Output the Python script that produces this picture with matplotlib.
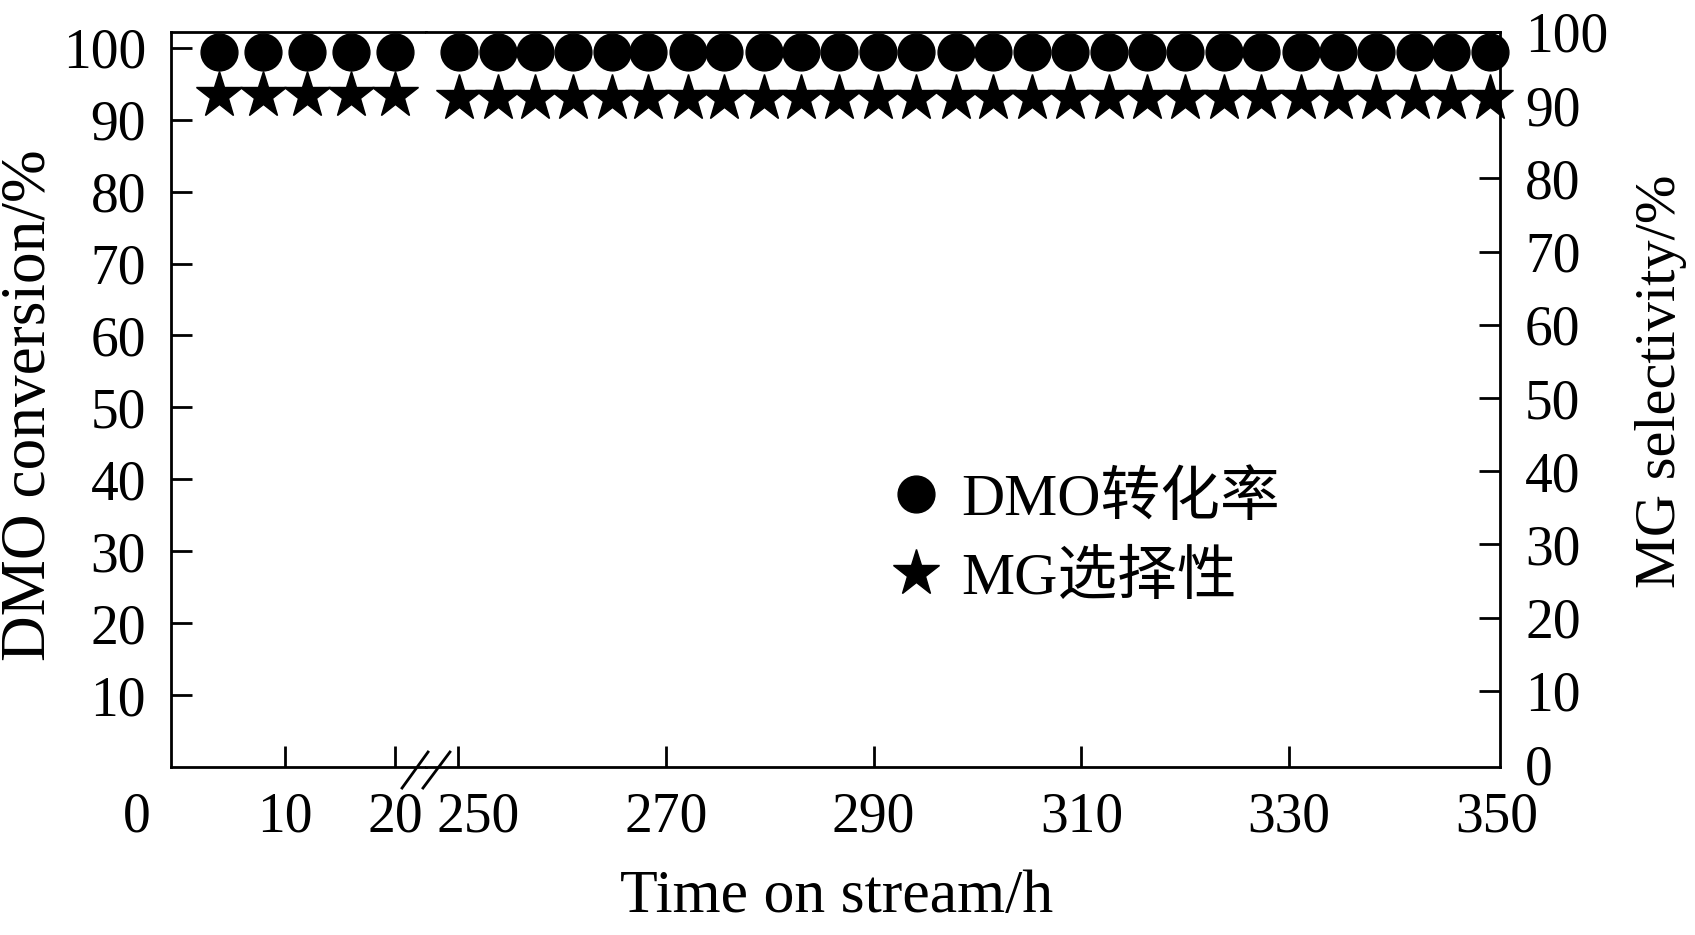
# DMO conversion / MG selectivity vs. time on stream (broken x axis)

import matplotlib
matplotlib.use("Agg")
import matplotlib.pyplot as plt
from matplotlib.transforms import ScaledTranslation

plt.rcParams["font.family"] = ["Liberation Serif", "Noto Sans CJK SC"]

# ============================
# Data
# ============================
t_early = [4, 8, 12, 16, 20]
conv_early = [99.4, 99.4, 99.4, 99.4, 99.4]
sel_early = [91.0, 91.0, 91.0, 91.0, 91.0]

t_late = [250.1, 253.8, 257.4, 261.1, 264.8, 268.3, 272.1, 275.6, 279.4,
          283.0, 286.7, 290.4, 294.1, 297.9, 301.5, 305.2, 308.9, 312.7,
          316.3, 320.0, 323.7, 327.3, 331.1, 334.7, 338.4, 342.1, 345.6,
          349.3]
conv_late = [99.4, 99.4, 99.4, 99.4, 99.4, 99.4, 99.4, 99.4, 99.4, 99.4,
             99.4, 99.4, 99.4, 99.4, 99.4, 99.4, 99.4, 99.4, 99.4, 99.4,
             99.4, 99.4, 99.4, 99.4, 99.4, 99.4, 99.4, 99.4]
sel_late = [91.0, 91.0, 91.0, 91.0, 91.0, 91.0, 91.0, 91.0, 91.0, 91.0,
            91.0, 91.0, 91.0, 91.0, 91.0, 91.0, 91.0, 91.0, 91.0, 91.0,
            91.0, 91.0, 91.0, 91.0, 91.0, 91.0, 91.0, 91.0]

xticks_early = [0, 10, 20]
xticks_late = [250, 270, 290, 310, 330, 350]
yticks_left = [10, 20, 30, 40, 50, 60, 70, 80, 90, 100]
yticks_right = [0, 10, 20, 30, 40, 50, 60, 70, 80, 90, 100]

label_conv = "DMO转化率"
label_sel = "MG选择性"

# ============================
# Layout
# ============================
W, H = 1695, 935
fig = plt.figure(figsize=(W / 100, H / 100), dpi=100)

L, R = 171 / W, 1500 / W
B, T = 1 - 767 / H, 1 - 32 / H
XB = 426 / W

axl = fig.add_axes([L, B, XB - L, T - B])
axr = fig.add_axes([XB, B, R - XB, T - B])
axl2 = axl.twinx()
axr2 = axr.twinx()

axl.set_xlim(-0.36, 22.8)
axr.set_xlim(246.9, 350.3)
for a in (axl, axr):
    a.set_ylim(0, 102.2)
for a in (axl2, axr2):
    a.set_ylim(-0.4, 99.5)

lw = 2.0
tick_fs = 40

# spines
for a in (axl, axr, axl2, axr2):
    for s in a.spines.values():
        s.set_linewidth(lw)
axl.spines["right"].set_visible(False)
axr.spines["left"].set_visible(False)
axr.spines["right"].set_visible(False)
for s in axl2.spines.values():
    s.set_visible(False)
axr2.spines["left"].set_visible(False)
axr2.spines["top"].set_visible(False)
axr2.spines["bottom"].set_visible(False)

# ============================
# Points
# ============================
circ_kw = dict(linestyle="none", marker="o", markersize=26.5, color="black",
               clip_on=False)
star_kw = dict(linestyle="none", marker="*", markersize=35, color="black",
               clip_on=False)

h_conv, = axl.plot(t_early, conv_early, **circ_kw)
axr.plot(t_late, conv_late, **circ_kw)
h_sel, = axl2.plot(t_early, sel_early, **star_kw)
axr2.plot(t_late, sel_late, **star_kw)

# ============================
# Ticks
# ============================
tp = dict(direction="in", length=15, width=lw, labelsize=tick_fs, pad=18)

axl.set_xticks(xticks_early)
axl.set_xticklabels([str(v) for v in xticks_early])
axl.set_yticks(yticks_left)
axl.set_yticklabels([str(v) for v in yticks_left])
axl.tick_params(axis="both", top=False, right=False, **tp)

axr.set_xticks(xticks_late)
axr.set_xticklabels([str(v) for v in xticks_late])
axr.tick_params(axis="x", top=False, **tp)
axr.tick_params(axis="y", left=False, right=False, labelleft=False)

axl2.tick_params(axis="y", right=False, labelright=False)

axr2.set_yticks(yticks_right)
axr2.set_yticklabels([str(v) for v in yticks_right])
axr2.tick_params(axis="y", **tp)

# tick marks at the frame corners are hidden by the spines in the original
axl.xaxis.get_major_ticks()[0].tick1line.set_visible(False)
axr.xaxis.get_major_ticks()[-1].tick1line.set_visible(False)
axr2.yaxis.get_major_ticks()[0].tick2line.set_visible(False)

# small label nudges, as in the original
lab0 = axl.get_xticklabels()[0]
lab0.set_transform(lab0.get_transform()
                   + ScaledTranslation(-0.38, 0, fig.dpi_scale_trans))
lab250 = axr.get_xticklabels()[0]
lab250.set_transform(lab250.get_transform()
                     + ScaledTranslation(0.20, 0, fig.dpi_scale_trans))

# ============================
# Axis break marks
# ============================
brk = dict(transform=axr.transAxes, color="black", lw=lw, clip_on=False)
axr.plot([-0.0223, 0.0019], [-0.0286, 0.0204], **brk)
axr.plot([-0.0028, 0.0223], [-0.0286, 0.0204], **brk)

# ============================
# Axis titles
# ============================
fig.text(30 / W, 1 - 405 / H, "DMO conversion/%", rotation=90,
         ha="center", va="center", fontsize=45.5)
fig.text(1661 / W, 1 - 381 / H, "MG selectivity/%", rotation=90,
         ha="center", va="center", fontsize=42)
fig.text(837 / W, 1 - 897 / H, "Time on stream/h",
         ha="center", va="center", fontsize=44.5)

# ============================
# Legend
# ============================
axr2.legend([h_conv, h_sel], [label_conv, label_sel],
            loc="center left", bbox_to_anchor=(886 / W, 1 - 540 / H),
            bbox_transform=fig.transFigure, frameon=False, fontsize=43,
            handlelength=1.0, handletextpad=0.26, labelspacing=0.4,
            borderpad=0, borderaxespad=0)

fig.savefig("out.png", dpi=100)
